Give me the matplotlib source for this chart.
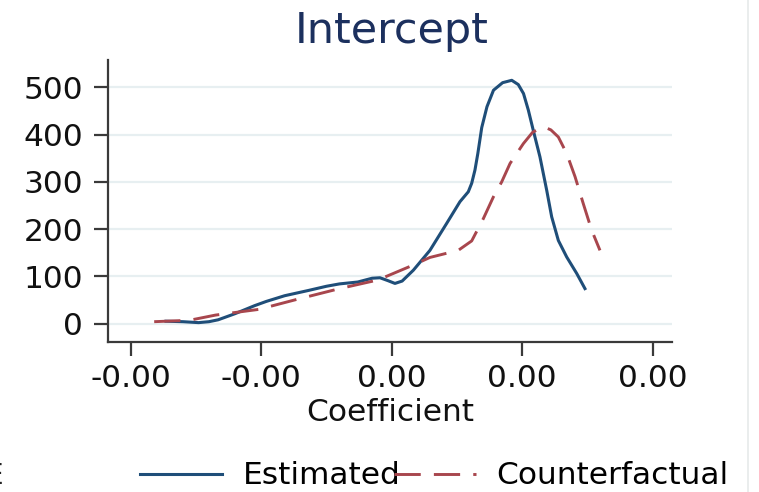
import matplotlib
matplotlib.use("Agg")
import matplotlib.pyplot as plt
from matplotlib.lines import Line2D
from matplotlib.ticker import FormatStrFormatter

plt.rcParams['font.family'] = ['DejaVu Sans']

# ---- data ----
est_x = [-0.00173, -0.00160, -0.00148, -0.00140, -0.00133, -0.00120, -0.00105, -0.00096,
         -0.00082, -0.00064, -0.00050, -0.00040, -0.00026, -0.00015, -0.00009, -0.00003,
         0.000025, 0.00008, 0.000166, 0.000293, 0.000421, 0.000523, 0.000587, 0.000613,
         0.000638, 0.00066, 0.00069, 0.00073, 0.00078, 0.00085, 0.00092, 0.00097,
         0.00101, 0.001047, 0.001085, 0.001136, 0.001188, 0.001226, 0.001277, 0.001341,
         0.001418, 0.001481]
est_y = [5, 4, 2, 4, 8, 21, 38, 47,
         59, 70, 79, 84, 88, 96, 97, 91,
         85, 90, 113, 155, 212, 258, 279, 297,
         325, 360, 415, 459, 494, 510, 515, 506,
         487, 452, 409, 353, 282, 226, 176, 141,
         106, 74]

cf_x = [-0.00182, -0.00155, -0.00135, -0.00102, -0.00073, -0.00040, -0.00011, -0.00004,
        0.000166, 0.000293, 0.00051, 0.000613, 0.000702, 0.000779, 0.000843, 0.000907,
        0.001009, 0.00108, 0.001162, 0.00122, 0.001277, 0.001341, 0.001405, 0.001468,
        0.001532, 0.001596]
cf_y = [4, 7, 18, 30, 51, 74, 92, 100,
        124, 140, 155, 175, 222, 268, 300, 339,
        381, 405, 417, 410, 395, 360, 311, 254,
        198, 155]

x_ticks = [-0.002, -0.001, 0.0, 0.001, 0.002]
y_ticks = [0, 100, 200, 300, 400, 500]
series_labels = ["Estimated", "Counterfactual"]
title_text = "Intercept"
xlabel_text = "Coefficient"

# ---- figure ----
W, H = 759, 492
fig = plt.figure(figsize=(W / 100, H / 100), dpi=100)
L, R, T, B = 108, 672, 60, 342
ax = fig.add_axes([L / W, 1 - B / H, (R - L) / W, (B - T) / H])

blue = '#1f4e79'
red = '#a8464d'
ax.plot(est_x, est_y, color=blue, lw=2.2, solid_joinstyle='round', label=series_labels[0], zorder=3)
ax.plot(cf_x, cf_y, color=red, lw=2.1, linestyle=(0, (9, 4.5)), label=series_labels[1], zorder=4)

ax.set_xlim(-0.002174, 0.002148)
ax.set_ylim(-39, 558)
ax.set_xticks(x_ticks)
ax.set_yticks(y_ticks)
ax.xaxis.set_major_formatter(FormatStrFormatter('%.2f'))

ax.grid(axis='y', color='#e7eff1', lw=1.6, zorder=0)
ax.grid(axis='x', visible=False)
for s in ['top', 'right']:
    ax.spines[s].set_visible(False)
for s in ['left', 'bottom']:
    ax.spines[s].set_color('#3a3a3a')
    ax.spines[s].set_linewidth(1.6)
ax.tick_params(axis='both', colors='#3a3a3a', width=1.6, length=10, labelsize=22.5, labelcolor='#111111')
ax.tick_params(axis='x', pad=6)
ax.tick_params(axis='y', pad=8)

fig.text(392 / W, 1 - 43 / H, title_text, ha='center', va='baseline', fontsize=31, color='#1c305e')
fig.text(390 / W, 1 - 421 / H, xlabel_text, ha='center', va='baseline', fontsize=22.5, color='#111111')

handles, labels = ax.get_legend_handles_labels()
fig.legend(handles, labels, loc='center left', bbox_to_anchor=(140 / W, 1 - 476 / H),
           ncol=2, frameon=False, fontsize=22.5, handlelength=2.62, handletextpad=0.67,
           columnspacing=-0.22, borderpad=0, borderaxespad=0)

# cropped glyph at the left edge and the light border on the right
fig.text(3 / W, 1 - 476 / H, "E", ha='right', va='center', fontsize=20, color='#222222')
fig.add_artist(Line2D([748 / W, 748 / W], [0, 1], transform=fig.transFigure, color='#e6eaea', lw=1.2))

fig.savefig('out.png', dpi=100)
